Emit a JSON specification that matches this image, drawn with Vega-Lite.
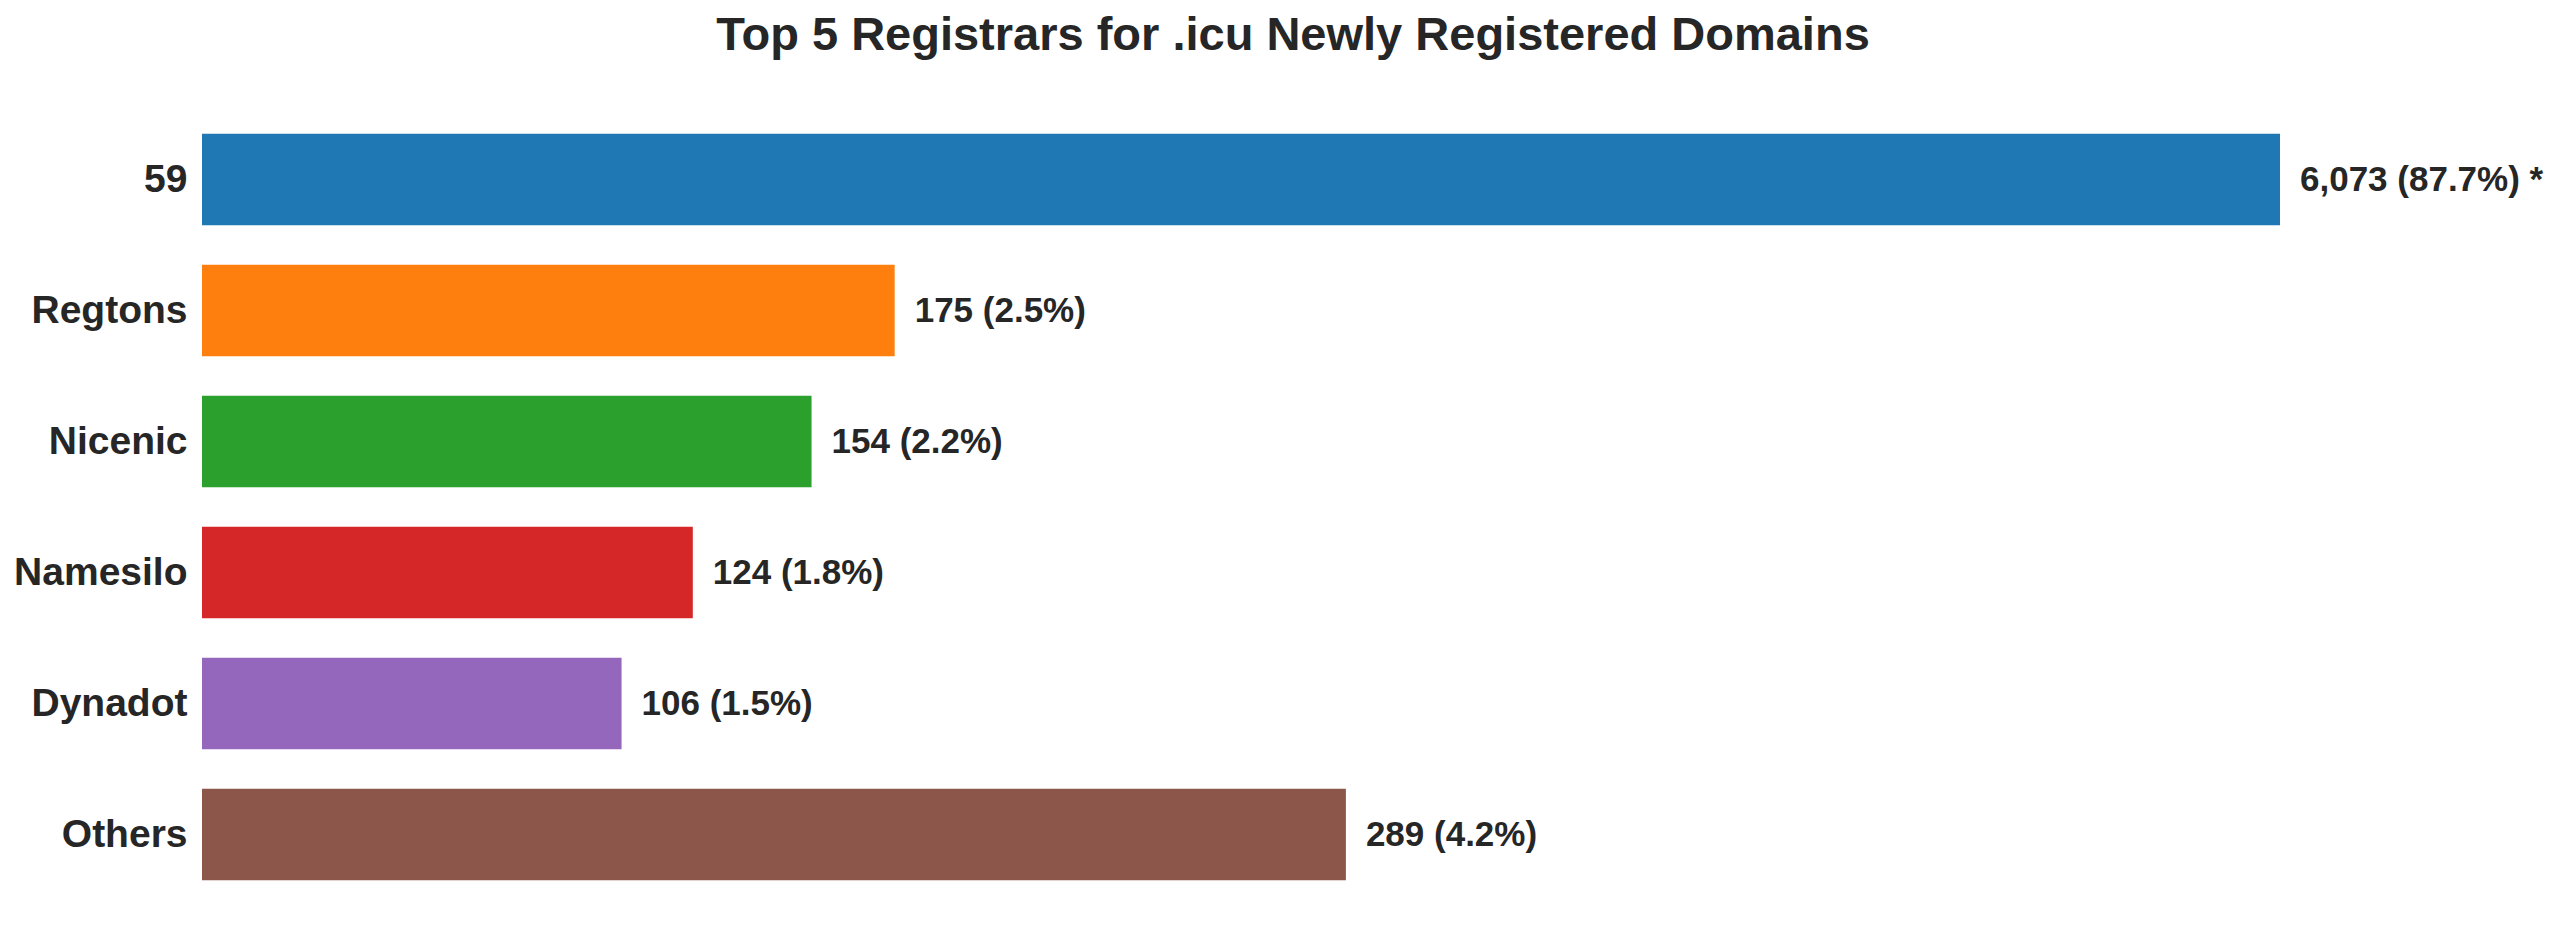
{
  "$schema": "https://vega.github.io/schema/vega-lite/v6.json",
  "autosize": {"type": "none"},
  "padding": {"left": 202, "top": 114, "right": 280, "bottom": 33},
  "width": 2078,
  "height": 786,
  "background": "white",
  "config": {
    "view": {"stroke": null},
    "font": "Liberation Sans"
  },
  "title": {
    "text": "Top 5 Registrars for .icu Newly Registered Domains",
    "fontSize": 47,
    "fontWeight": "bold",
    "color": "#262626",
    "font": "Liberation Sans",
    "anchor": "middle",
    "dx": 52,
    "offset": 54
  },
  "data": {
    "values": [
      {"registrar": "59", "count": 6073, "pct": 87.7, "label": "6,073 (87.7%) *"},
      {"registrar": "Regtons", "count": 175, "pct": 2.5, "label": "175 (2.5%)"},
      {"registrar": "Nicenic", "count": 154, "pct": 2.2, "label": "154 (2.2%)"},
      {"registrar": "Namesilo", "count": 124, "pct": 1.8, "label": "124 (1.8%)"},
      {"registrar": "Dynadot", "count": 106, "pct": 1.5, "label": "106 (1.5%)"},
      {"registrar": "Others", "count": 289, "pct": 4.2, "label": "289 (4.2%)"}
    ]
  },
  "encoding": {
    "y": {
      "field": "registrar",
      "type": "nominal",
      "sort": null,
      "scale": {"paddingInner": 0.3, "paddingOuter": 0.15},
      "axis": {
        "title": null,
        "domain": false,
        "ticks": false,
        "labelPadding": 15,
        "labelFontSize": 39,
        "labelFontWeight": "bold",
        "labelColor": "#262626",
        "labelFont": "Liberation Sans"
      }
    },
    "x": {
      "field": "count",
      "type": "quantitative",
      "scale": {"domain": [0, 525], "clamp": true, "nice": false},
      "axis": null
    }
  },
  "layer": [
    {
      "mark": {"type": "bar"},
      "encoding": {
        "color": {
          "field": "registrar",
          "type": "nominal",
          "sort": null,
          "scale": {
            "domain": ["59", "Regtons", "Nicenic", "Namesilo", "Dynadot", "Others"],
            "range": ["#1f77b4", "#ff7f0e", "#2ca02c", "#d62728", "#9467bd", "#8c564b"]
          },
          "legend": null
        }
      }
    },
    {
      "mark": {
        "type": "text",
        "align": "left",
        "baseline": "middle",
        "dx": 20,
        "fontSize": 35,
        "fontWeight": "bold",
        "color": "#262626",
        "font": "Liberation Sans"
      },
      "encoding": {
        "text": {"field": "label"}
      }
    }
  ]
}
